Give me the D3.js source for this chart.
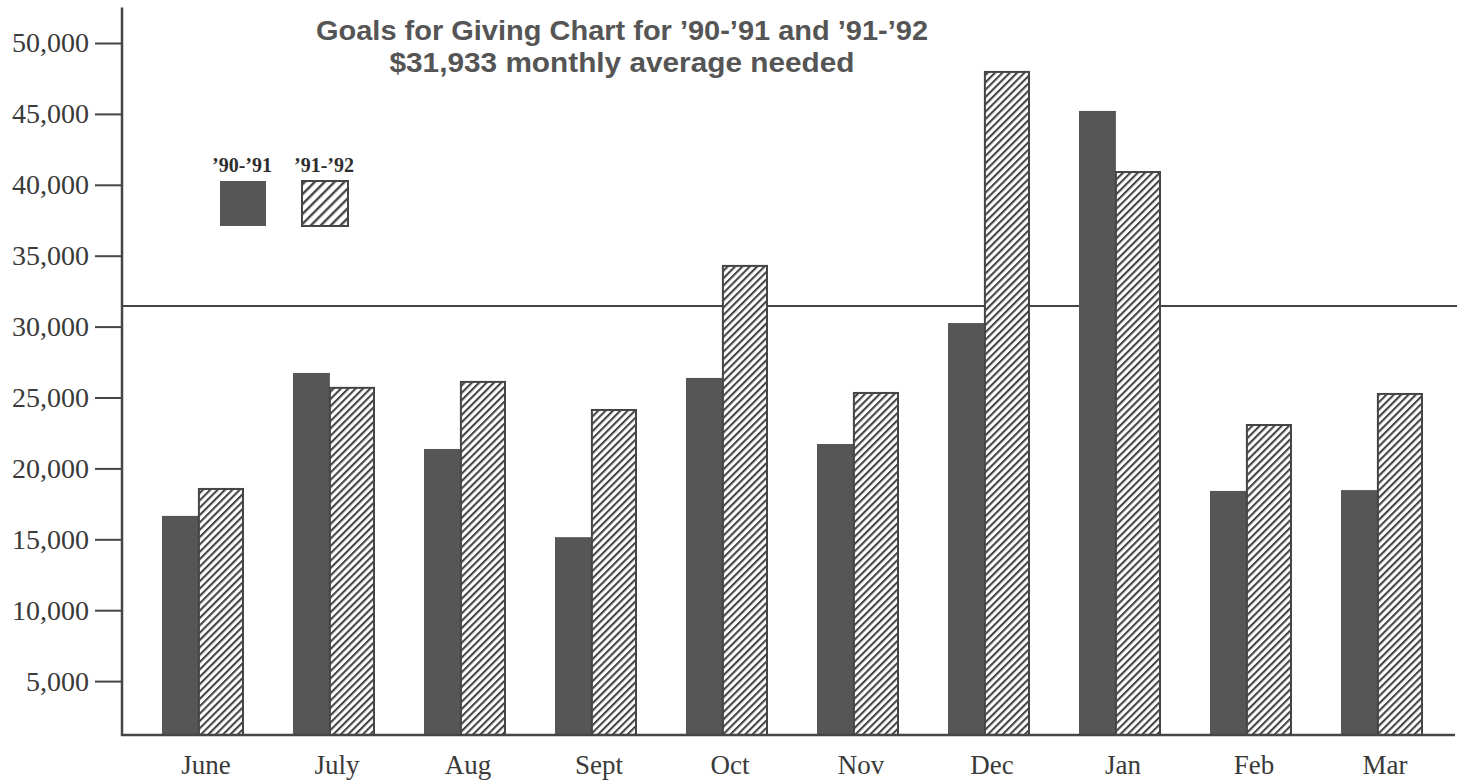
<!DOCTYPE html>
<html>
<head>
<meta charset="utf-8">
<script src="https://cdn.jsdelivr.net/npm/d3@7"></script>
<style>
  html, body { margin: 0; padding: 0; background: #fff; }
  svg { display: block; }
</style>
</head>
<body>
<svg id="chart" width="1463" height="781"></svg>
<script>
// ---- data ----
const months = ["June", "July", "Aug", "Sept", "Oct", "Nov", "Dec", "Jan", "Feb", "Mar"];
const series90 = [16650, 26730, 21370, 15150, 26380, 21720, 30250, 45210, 18410, 18470];
const series91 = [18550, 25680, 26100, 24120, 34280, 25320, 47960, 40900, 23060, 25250];
const seriesNames = ["’90-’91", "’91-’92"];
const yTicks = [5000, 10000, 15000, 20000, 25000, 30000, 35000, 40000, 45000, 50000];
const averageLine = 31450;   // drawn position of the horizontal line
const axisFloor = 1200;      // value at which the baseline is drawn
const axisTop = 52500;       // value at the top end of the vertical axis
const titleLines = ["Goals for Giving Chart for ’90-’91 and ’91-’92", "$31,933 monthly average needed"];

// ---- layout ----
const svg = d3.select("#chart");
const ink = "#454545";
const dark = "#565656";

const y = d3.scaleLinear().domain([0, 50000]).range([752, 43]);
const x = d3.scaleBand().domain(months).range([137.5, 1447.5]).paddingInner(0.374).paddingOuter(0.187);
const axisX = 122, axisRight = 1455;
const darkFrac = 0.45;

// patterns
const defs = svg.append("defs");
function hatch(id, s, t) {
  const p = defs.append("pattern").attr("id", id).attr("patternUnits", "userSpaceOnUse")
    .attr("width", s).attr("height", s).attr("patternTransform", "rotate(45)");
  p.append("rect").attr("width", s).attr("height", s).attr("fill", "#fff");
  p.append("rect").attr("x", 0).attr("y", 0).attr("width", t).attr("height", s).attr("fill", ink);
}
hatch("hatchBar", 5.2, 2.1);
hatch("hatchLegend", 7, 2.4);

// average line (behind the bars)
svg.append("line")
  .attr("x1", axisX).attr("x2", axisRight + 2)
  .attr("y1", y(averageLine)).attr("y2", y(averageLine))
  .attr("stroke", ink).attr("stroke-width", 2);

// bars
const g = svg.append("g");
g.selectAll("rect.s90").data(months).join("rect").attr("class", "s90")
  .attr("x", d => x(d))
  .attr("width", x.bandwidth() * darkFrac)
  .attr("y", (d, i) => y(series90[i]))
  .attr("height", (d, i) => y(axisFloor) - y(series90[i]))
  .attr("fill", dark);

g.selectAll("rect.s91").data(months).join("rect").attr("class", "s91")
  .attr("x", d => x(d) + x.bandwidth() * darkFrac)
  .attr("width", x.bandwidth() * (1 - darkFrac) - 1)
  .attr("y", (d, i) => y(series91[i]))
  .attr("height", (d, i) => y(axisFloor) - y(series91[i]))
  .attr("fill", "url(#hatchBar)")
  .attr("stroke", ink).attr("stroke-width", 2);

// y axis
const yAxis = d3.axisLeft(y).tickValues(yTicks).tickSize(27).tickPadding(6)
  .tickFormat(d3.format(","));
const ya = svg.append("g").attr("transform", `translate(${axisX},0)`).call(yAxis);
ya.select(".domain").remove();
ya.selectAll(".tick line").attr("stroke", ink).attr("stroke-width", 2);
ya.selectAll(".tick text").attr("fill", "#3a3a3a")
  .style("font-family", "'Liberation Serif', 'Times New Roman', serif").style("font-size", "28px");
svg.append("line").attr("x1", axisX).attr("x2", axisX)
  .attr("y1", y(axisTop)).attr("y2", y(axisFloor) + 1)
  .attr("stroke", ink).attr("stroke-width", 2.5);

// x axis
const xAxis = d3.axisBottom(x).tickSize(0).tickPadding(20);
const xa = svg.append("g").attr("transform", `translate(0,${y(axisFloor)})`).call(xAxis);
xa.select(".domain").remove();
xa.selectAll(".tick text").attr("fill", "#3a3a3a").attr("dx", "3")
  .style("font-family", "'Liberation Serif', 'Times New Roman', serif").style("font-size", "27px");
svg.append("line").attr("x1", axisX - 1).attr("x2", axisRight)
  .attr("y1", y(axisFloor)).attr("y2", y(axisFloor))
  .attr("stroke", ink).attr("stroke-width", 2.5);

// title
const titleWidths = [612, 465];
svg.append("g").selectAll("text").data(titleLines).join("text")
  .attr("x", 622).attr("y", (d, i) => 40 + i * 32)
  .attr("text-anchor", "middle")
  .attr("fill", "#555")
  .attr("textLength", (d, i) => titleWidths[i])
  .attr("lengthAdjust", "spacingAndGlyphs")
  .style("font-family", "'Liberation Sans', Arial, sans-serif")
  .style("font-weight", "bold").style("font-size", "28.5px")
  .text(d => d);

// legend
const legend = svg.append("g");
const lx = [220, 302];
legend.selectAll("rect").data(seriesNames).join("rect")
  .attr("x", (d, i) => lx[i]).attr("y", 181).attr("width", 46).attr("height", 45)
  .attr("fill", (d, i) => i === 0 ? dark : "url(#hatchLegend)")
  .attr("stroke", (d, i) => i === 0 ? "none" : ink).attr("stroke-width", 2);
legend.selectAll("text").data(seriesNames).join("text")
  .attr("x", (d, i) => lx[i] + 22).attr("y", 172)
  .attr("text-anchor", "middle").attr("fill", "#2e2e2e")
  .style("font-family", "'Liberation Serif', 'Times New Roman', serif")
  .style("font-weight", "bold").style("font-size", "20px")
  .text(d => d);
</script>
</body>
</html>
